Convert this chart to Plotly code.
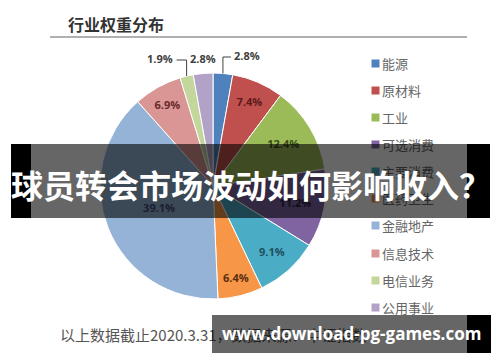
import math
import plotly.graph_objects as go

W, H = 500, 362

labels = ["能源", "原材料", "工业", "可选消费", "主要消费", "医药卫生", "金融地产", "信息技术", "电信业务", "公用事业"]
values = [2.8, 7.4, 12.4, 11.2, 9.1, 6.4, 39.1, 6.9, 1.9, 2.8]
colors = ["#4F81BD", "#C0504D", "#9BBB59", "#8064A2", "#4BACC6", "#F79646",
          "#95B3D7", "#D99694", "#C3D69B", "#B3A2C7"]
text_colors = ["#404040", "#5c1a1a", "#3a4a1a", "#2a2040", "#1f4f5f", "#5a2e10",
               "#3d4f7a", "#6a2a2a", "#404040", "#404040"]
text_pos = ["none", "inside", "inside", "inside", "inside", "inside",
            "inside", "inside", "none", "none"]

title_text = "行业权重分布"
foot_text = "以上数据截止2020.3.31，数据来源：中证指数"
banner_text = "球员转会市场波动如何影响收入？"
wm_text = "www.download-pg-games.com"

# pie placement (pixels)
CX, CY, R = 213, 186, 113


def px(x):
    return x / W


def py(y):
    return 1 - y / H


fig = go.Figure()
fig.add_trace(go.Pie(
    labels=labels, values=values, sort=False, direction="clockwise", rotation=0,
    marker=dict(colors=colors, line=dict(color="white", width=1)),
    texttemplate="%{value:.1f}%", textposition=text_pos,
    insidetextorientation="horizontal",
    textfont=dict(family="Open Sans", size=11, color=text_colors, weight="bold"),
    domain=dict(x=[px(CX - R), px(CX + R)], y=[py(CY + R), py(CY - R)]),
    showlegend=False, hoverinfo="label+percent",
))

ann = []
shapes = [dict(type="line", xref="paper", yref="paper", x0=px(50), x1=px(467), y0=py(37), y1=py(37),
               line=dict(color="#b0b0b0", width=2))]

# outside labels for the small slices, placed from each slice's mid-angle
total = sum(values)
cum = 0.0
mid = []
for v in values:
    mid.append((cum + v / 2) / total * 2 * math.pi)
    cum += v


def edge(i):
    a = mid[i]
    return CX + R * math.sin(a), CY - R * math.cos(a)


lab_font = dict(family="Open Sans", size=11, color="#404040", weight="bold")
# 能源: elbow going up then right
ex, ey = edge(0)
shapes.append(dict(type="path", xref="paper", yref="paper",
                   path=f"M {px(ex)},{py(ey)} L {px(ex)},{py(57)} L {px(ex + 8)},{py(57)}",
                   line=dict(color="#404040", width=1)))
ann.append(dict(x=px(ex + 9), y=py(55), xref="paper", yref="paper", xanchor="left", yanchor="middle",
                text=f"{values[0]:.1f}%", showarrow=False, font=lab_font))
# 电信业务: elbow going up then left
ex, ey = edge(8)
shapes.append(dict(type="path", xref="paper", yref="paper",
                   path=f"M {px(ex)},{py(ey)} L {px(ex)},{py(60)} L {px(ex - 10)},{py(60)}",
                   line=dict(color="#404040", width=1)))
ann.append(dict(x=px(ex - 12), y=py(58), xref="paper", yref="paper", xanchor="right", yanchor="middle",
                text=f"{values[8]:.1f}%", showarrow=False, font=lab_font))
# 公用事业: label directly above
ex, ey = edge(9)
ann.append(dict(x=px(ex), y=py(58), xref="paper", yref="paper", xanchor="center", yanchor="middle",
                text=f"{values[9]:.1f}%", showarrow=False, font=lab_font))

# title
ann.append(dict(x=px(66), y=py(24), xref="paper", yref="paper", xanchor="left", yanchor="middle",
                text="<b>" + title_text + "</b>", showarrow=False,
                font=dict(family="Noto Sans CJK SC", size=16, color="#333333")))
# legend (manual, drawn from the data lists)
for i, (lab, col) in enumerate(zip(labels, colors)):
    yc = 63.3 + 27.1 * i
    ann.append(dict(x=px(371), y=py(yc), xref="paper", yref="paper", xanchor="left", yanchor="middle",
                    text=" ", showarrow=False, bgcolor=col, width=7, height=7, borderpad=0,
                    font=dict(size=4)))
    ann.append(dict(x=px(380), y=py(yc), xref="paper", yref="paper", xanchor="left", yanchor="middle",
                    text=lab, showarrow=False,
                    font=dict(family="Noto Sans CJK SC", size=13, color="#666666")))
# footnote
ann.append(dict(x=px(58), y=py(334), xref="paper", yref="paper", xanchor="left", yanchor="middle",
                text=foot_text, showarrow=False,
                font=dict(family="Noto Sans CJK SC", size=15, color="#555555")))


def box(x0, y0, x1, y1, color):
    return dict(x=px(x0), y=py(y0), xref="paper", yref="paper", xanchor="left", yanchor="top",
                text=" ", showarrow=False, bgcolor=color, width=x1 - x0, height=y1 - y0,
                borderpad=0, borderwidth=0, font=dict(size=4))


# banner
ann.append(box(11, 144, 31, 218, "#000000"))
ann.append(box(31, 144, 467, 218, "rgba(0,0,0,0.6)"))
ann.append(box(467, 144, 490, 218, "#000000"))
ann.append(dict(x=px(251), y=py(184), xref="paper", yref="paper", xanchor="center", yanchor="middle",
                text="<b>" + banner_text + "</b>", showarrow=False,
                font=dict(family="Noto Sans CJK SC", size=32, color="white")))
# watermark
ann.append(box(212, 315, 467, 353, "rgba(0,0,0,0.6)"))
ann.append(box(467, 315, 491, 353, "#000000"))
ann.append(dict(x=px(351), y=py(333), xref="paper", yref="paper", xanchor="center", yanchor="middle",
                text="<b>" + wm_text + "</b>", showarrow=False,
                font=dict(family="Open Sans", size=17, color="white")))

fig.update_layout(
    width=W, height=H, margin=dict(l=0, r=0, t=0, b=0),
    paper_bgcolor="white", plot_bgcolor="white",
    annotations=ann, shapes=shapes,
)
fig.write_html("out.html")
